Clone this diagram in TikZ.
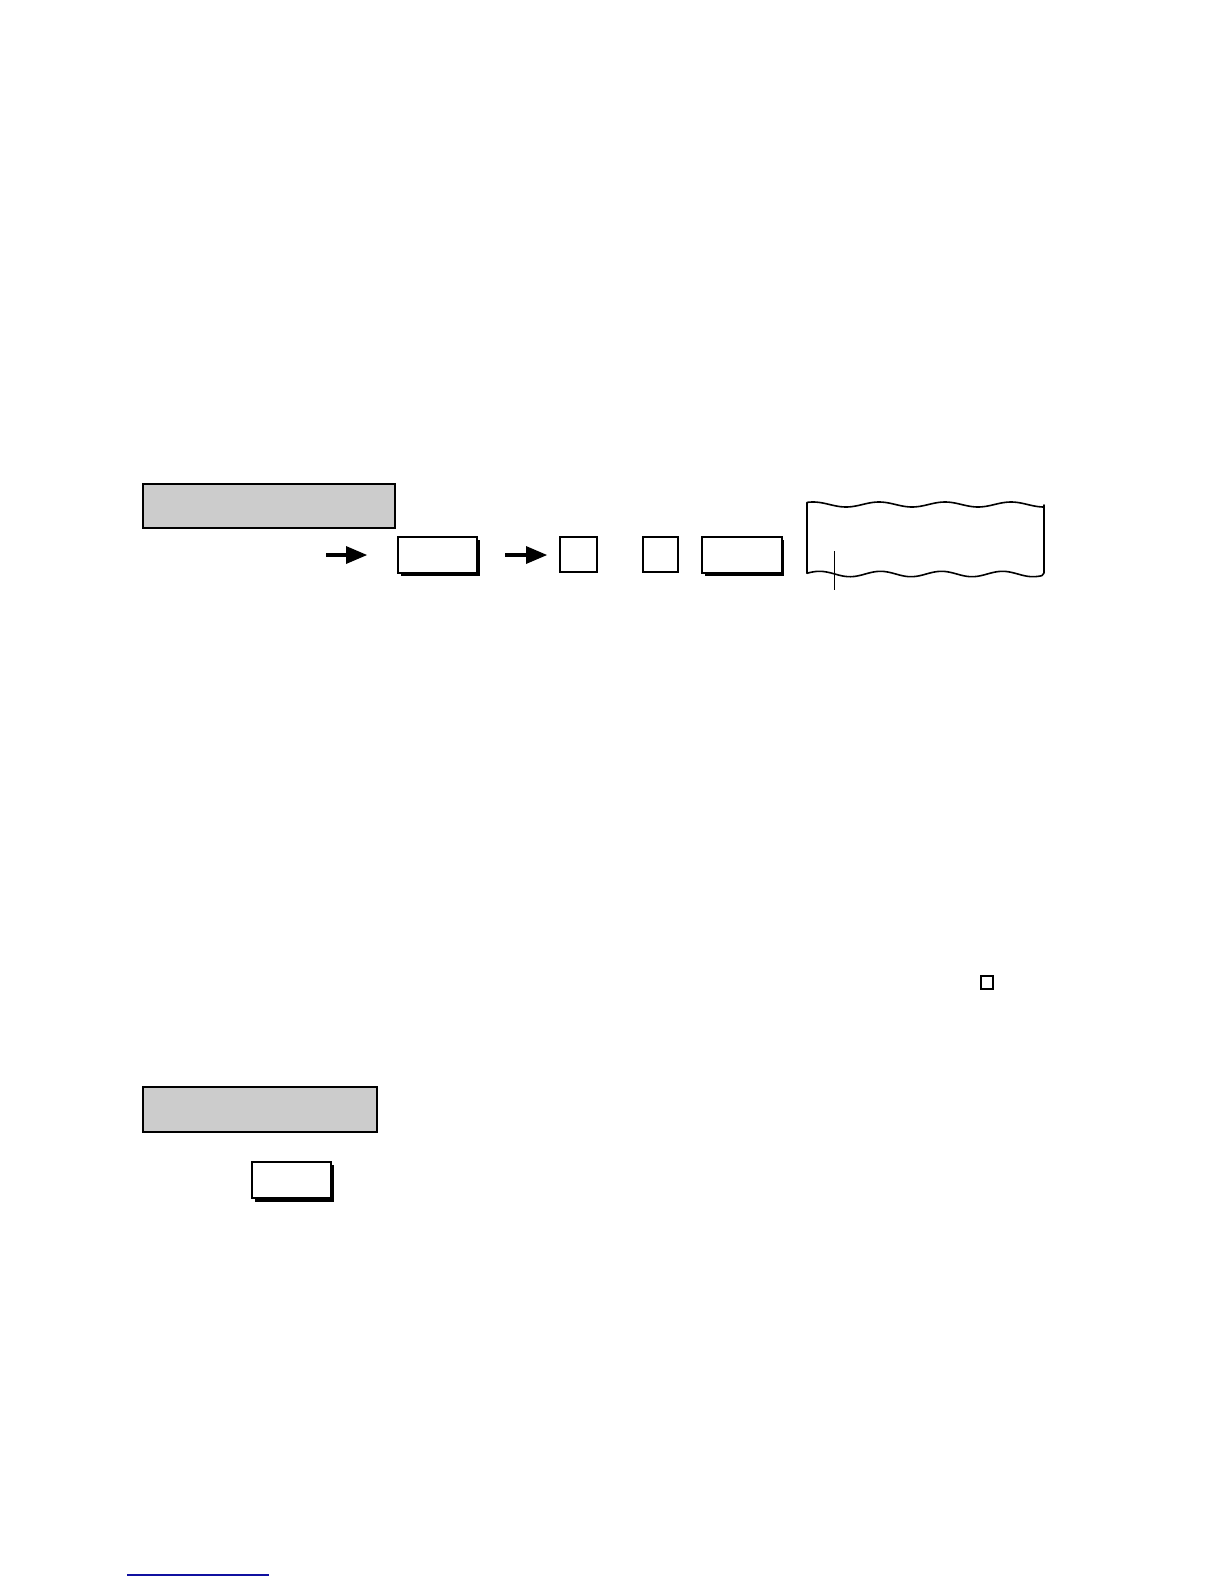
\documentclass[tikz,border=0pt]{standalone}
\usetikzlibrary{calc}
\definecolor{boxgray}{HTML}{CCCCCC}
\definecolor{linkblue}{HTML}{1010A0}
\begin{document}
\begin{tikzpicture}[x=0.5pt,y=-0.5pt,
  graybox/.style={fill=boxgray,draw=black,line width=1pt},
  keybox/.style={fill=white,draw=black,line width=1pt},
  keyshadow/.style={fill=black,draw=none},
  smallsq/.style={fill=white,draw=black,line width=0.8pt},
  fatarrow/.style={line width=2pt,draw=black},
  headfill/.style={fill=black,draw=none},
  paper/.style={draw=black,line width=0.8pt}]
\useasboundingbox (0,0) rectangle (1224,1584);
% gray heading boxes
\draw[graybox] (143,484) rectangle (395,528);
\draw[graybox] (143,1087) rectangle (377,1132);
% arrow 1
\coordinate (a1s) at (326,555);
\coordinate (a1e) at (349,555);
\draw[fatarrow] (a1s) -- (a1e);
\fill[headfill] (346,546) -- (367,555) -- (346,564) -- cycle;
% key box 1
\fill[keyshadow] (401,540) rectangle (480,576);
\draw[keybox] (398,537) rectangle (477,573);
% arrow 2
\coordinate (a2s) at (505,555);
\coordinate (a2e) at (528,555);
\draw[fatarrow] (a2s) -- (a2e);
\fill[headfill] (526,546) -- (547,555) -- (526,564) -- cycle;
% squares
\draw[smallsq] (560,537) rectangle (597,572);
\draw[smallsq] (643,537) rectangle (678,572);
% key box 2
\fill[keyshadow] (705,540) rectangle (784,576);
\draw[keybox] (702,537) rectangle (782,573);
% paper strip
\draw[paper,line join=round]
  (807,505) -- (807,573)
  -- plot[domain=807:1042,samples=120,smooth] (\x,{574+2.7*cos((\x-850)/61*360)})
  -- (1044,573) -- (1044,505)
  -- plot[domain=1044:807,samples=120,smooth] (\x,{504.5-2.5*cos((\x-813)/66*360)})
  -- cycle;
\coordinate (ct) at (834,551);
\coordinate (cb) at (834,590);
\draw[line width=0.5pt] (ct) -- (cb);
% small square
\draw[line width=0.6pt] (981,976) rectangle (993,989);
% key box 3
\fill[keyshadow] (255,1165) rectangle (334,1202);
\draw[keybox] (252,1162) rectangle (331,1198);
% bottom link line
\coordinate (l1) at (127,1575);
\coordinate (l2) at (269,1575);
\draw[linkblue,line width=0.6pt] (l1) -- (l2);
\end{tikzpicture}
\end{document}
